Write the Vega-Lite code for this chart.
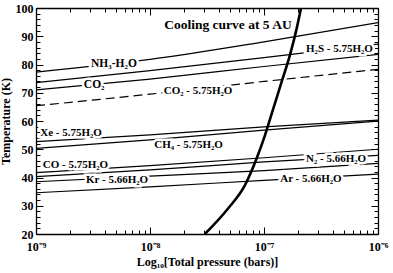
{
  "$schema": "https://vega.github.io/schema/vega-lite/v6.json",
  "width": 342,
  "height": 226,
  "autosize": "none",
  "padding": {"left": 36, "top": 8, "right": 15, "bottom": 39},
  "background": "white",
  "config": {
    "font": "Liberation Serif",
    "view": {"stroke": null},
    "axis": {
      "grid": false,
      "domainColor": "black",
      "domainWidth": 1.3,
      "tickColor": "black",
      "tickWidth": 1,
      "labelFont": "Liberation Serif",
      "labelFontWeight": "bold",
      "labelFontSize": 12,
      "labelColor": "black",
      "titleFont": "Liberation Serif",
      "titleFontWeight": "bold",
      "titleFontSize": 12,
      "titleColor": "black",
      "labelOverlap": false,
      "labelFlush": false
    }
  },
  "datasets": {
    "lines": [
      {"s": "NH3", "P": 1e-9, "T": 77.3}, {"s": "NH3", "P": 1e-8, "T": 81.8}, {"s": "NH3", "P": 1e-7, "T": 88.0}, {"s": "NH3", "P": 1e-6, "T": 94.8},
      {"s": "H2S", "P": 1e-9, "T": 73.6}, {"s": "H2S", "P": 1e-8, "T": 77.8}, {"s": "H2S", "P": 1e-7, "T": 82.4}, {"s": "H2S", "P": 1e-6, "T": 87.2},
      {"s": "CO2", "P": 1e-9, "T": 71.0}, {"s": "CO2", "P": 1e-8, "T": 74.8}, {"s": "CO2", "P": 1e-7, "T": 79.3}, {"s": "CO2", "P": 1e-6, "T": 83.6},
      {"s": "Xe", "P": 1e-9, "T": 52.7}, {"s": "Xe", "P": 1e-8, "T": 55.1}, {"s": "Xe", "P": 1e-7, "T": 57.9}, {"s": "Xe", "P": 1e-6, "T": 60.3},
      {"s": "CH4", "P": 1e-9, "T": 50.3}, {"s": "CH4", "P": 1e-8, "T": 53.3}, {"s": "CH4", "P": 1e-7, "T": 56.8}, {"s": "CH4", "P": 1e-6, "T": 60.0},
      {"s": "CO", "P": 1e-9, "T": 41.7}, {"s": "CO", "P": 1e-8, "T": 44.2}, {"s": "CO", "P": 1e-7, "T": 47.0}, {"s": "CO", "P": 1e-6, "T": 50.0},
      {"s": "N2", "P": 1e-9, "T": 40.3}, {"s": "N2", "P": 1e-8, "T": 42.7}, {"s": "N2", "P": 1e-7, "T": 45.5}, {"s": "N2", "P": 1e-6, "T": 47.8},
      {"s": "Kr", "P": 1e-9, "T": 38.5}, {"s": "Kr", "P": 1e-8, "T": 40.5}, {"s": "Kr", "P": 1e-7, "T": 42.4}, {"s": "Kr", "P": 1e-6, "T": 45.0},
      {"s": "Ar", "P": 1e-9, "T": 34.6}, {"s": "Ar", "P": 1e-8, "T": 36.7}, {"s": "Ar", "P": 1e-7, "T": 39.0}, {"s": "Ar", "P": 1e-6, "T": 41.2}
    ],
    "dashed": [
      {"s": "CO2-5.75H2O", "P": 1e-9, "T": 65.4}, {"s": "CO2-5.75H2O", "P": 1e-8, "T": 69.5}, {"s": "CO2-5.75H2O", "P": 1e-7, "T": 74.0}, {"s": "CO2-5.75H2O", "P": 1e-6, "T": 78.3}
    ],
    "cooling": [
      {"P": 3.03e-8, "T": 20.0}, {"P": 4.86e-8, "T": 29.1}, {"P": 6.81e-8, "T": 37.3}, {"P": 8.63e-8, "T": 46.8},
      {"P": 1.021e-7, "T": 55.0}, {"P": 1.208e-7, "T": 64.5}, {"P": 1.429e-7, "T": 73.9}, {"P": 1.69e-7, "T": 83.4},
      {"P": 1.936e-7, "T": 92.8}, {"P": 2.113e-7, "T": 100.0}
    ],
    "labels": [
      {"label": "Cooling curve at 5 AU", "P": 4.83e-8, "T": 94.0, "size": 13.5},
      {"label": "NH₃-H₂O", "P": 4.83e-9, "T": 80.2, "size": 11.5},
      {"label": "CO₂", "P": 3.24e-9, "T": 72.7, "size": 11.5},
      {"label": "CO₂ - 5.75H₂O", "P": 2.64e-8, "T": 70.7, "size": 11},
      {"label": "H₂S - 5.75H₂O", "P": 4.59e-7, "T": 85.4, "size": 11},
      {"label": "Xe - 5.75H₂O", "P": 2.03e-9, "T": 55.9, "size": 11},
      {"label": "CH₄ - 5.75H₂O", "P": 2.18e-8, "T": 51.5, "size": 11},
      {"label": "CO - 5.75H₂O", "P": 2.22e-9, "T": 44.4, "size": 11},
      {"label": "Kr - 5.66H₂O", "P": 5.14e-9, "T": 39.1, "size": 11},
      {"label": "N₂ - 5.66H₂O", "P": 4.29e-7, "T": 46.7, "size": 11},
      {"label": "Ar - 5.66H₂O", "P": 2.58e-7, "T": 39.5, "size": 11}
    ]
  },
  "layer": [
    {
      "data": {"name": "lines"},
      "mark": {"type": "line", "color": "black", "strokeWidth": 1.2, "interpolate": "monotone", "clip": true},
      "encoding": {
        "x": {
          "field": "P", "type": "quantitative",
          "scale": {"type": "log", "domain": [1e-9, 1e-6], "nice": false},
          "axis": {
            "orient": "bottom",
            "title": "Log₁₀[Total pressure (bars)]",
            "values": [1e-9, 2e-9, 3e-9, 4e-9, 5e-9, 6e-9, 7e-9, 8e-9, 9e-9, 1e-8, 2e-8, 3e-8, 4e-8, 5e-8, 6e-8, 7e-8, 8e-8, 9e-8, 1e-7, 2e-7, 3e-7, 4e-7, 5e-7, 6e-7, 7e-7, 8e-7, 9e-7, 1e-6],
            "labelExpr": "abs(log(datum.value)/LN10 - round(log(datum.value)/LN10)) < 0.01 ? '10' + ['⁻⁹','⁻⁸','⁻⁷','⁻⁶'][round(log(datum.value)/LN10) + 9] : ''",
            "tickSize": {"condition": {"test": "abs(log(datum.value)/LN10 - round(log(datum.value)/LN10)) < 0.01", "value": -7}, "value": -4},
            "labelPadding": 14,
            "titlePadding": 1
          }
        },
        "y": {
          "field": "T", "type": "quantitative",
          "scale": {"domain": [20, 100], "nice": false, "zero": false},
          "axis": {
            "orient": "left",
            "title": "Temperature (K)",
            "values": [20, 22, 24, 26, 28, 30, 32, 34, 36, 38, 40, 42, 44, 46, 48, 50, 52, 54, 56, 58, 60, 62, 64, 66, 68, 70, 72, 74, 76, 78, 80, 82, 84, 86, 88, 90, 92, 94, 96, 98, 100],
            "labelExpr": "datum.value % 10 === 0 ? datum.label : ''",
            "tickSize": {"condition": {"test": "datum.value % 10 === 0", "value": -7}, "value": -4},
            "labelPadding": 10,
            "titlePadding": 3
          }
        },
        "detail": {"field": "s"}
      }
    },
    {
      "data": {"name": "dashed"},
      "mark": {"type": "line", "color": "black", "strokeWidth": 1.2, "strokeDash": [9, 5], "interpolate": "monotone", "clip": true},
      "encoding": {
        "x": {"field": "P", "type": "quantitative", "axis": null},
        "y": {"field": "T", "type": "quantitative", "axis": null}
      }
    },
    {
      "data": {"name": "labels"},
      "mark": {"type": "text", "font": "Liberation Serif", "fontWeight": "bold", "stroke": "white", "strokeWidth": 5, "fill": "white", "align": "center", "baseline": "middle"},
      "encoding": {
        "x": {"field": "P", "type": "quantitative", "axis": null},
        "y": {"field": "T", "type": "quantitative", "axis": null},
        "text": {"field": "label"},
        "size": {"field": "size", "type": "quantitative", "scale": null, "legend": null}
      }
    },
    {
      "data": {"name": "labels"},
      "mark": {"type": "text", "font": "Liberation Serif", "fontWeight": "bold", "color": "black", "align": "center", "baseline": "middle"},
      "encoding": {
        "x": {"field": "P", "type": "quantitative", "axis": null},
        "y": {"field": "T", "type": "quantitative", "axis": null},
        "text": {"field": "label"},
        "size": {"field": "size", "type": "quantitative", "scale": null, "legend": null}
      }
    },
    {
      "data": {"name": "cooling"},
      "mark": {"type": "line", "color": "black", "strokeWidth": 2.6, "interpolate": "monotone", "clip": true},
      "encoding": {
        "x": {
          "field": "P", "type": "quantitative",
          "axis": {
            "orient": "top", "title": null,
            "values": [1e-9, 2e-9, 3e-9, 4e-9, 5e-9, 6e-9, 7e-9, 8e-9, 9e-9, 1e-8, 2e-8, 3e-8, 4e-8, 5e-8, 6e-8, 7e-8, 8e-8, 9e-8, 1e-7, 2e-7, 3e-7, 4e-7, 5e-7, 6e-7, 7e-7, 8e-7, 9e-7, 1e-6],
            "labels": false,
            "tickSize": {"condition": {"test": "abs(log(datum.value)/LN10 - round(log(datum.value)/LN10)) < 0.01", "value": -7}, "value": -4}
          }
        },
        "y": {
          "field": "T", "type": "quantitative",
          "axis": {
            "orient": "right", "title": null,
            "values": [20, 22, 24, 26, 28, 30, 32, 34, 36, 38, 40, 42, 44, 46, 48, 50, 52, 54, 56, 58, 60, 62, 64, 66, 68, 70, 72, 74, 76, 78, 80, 82, 84, 86, 88, 90, 92, 94, 96, 98, 100],
            "labels": false,
            "tickSize": {"condition": {"test": "datum.value % 10 === 0", "value": -7}, "value": -4}
          }
        }
      }
    }
  ],
  "resolve": {"axis": {"x": "independent", "y": "independent"}}
}
